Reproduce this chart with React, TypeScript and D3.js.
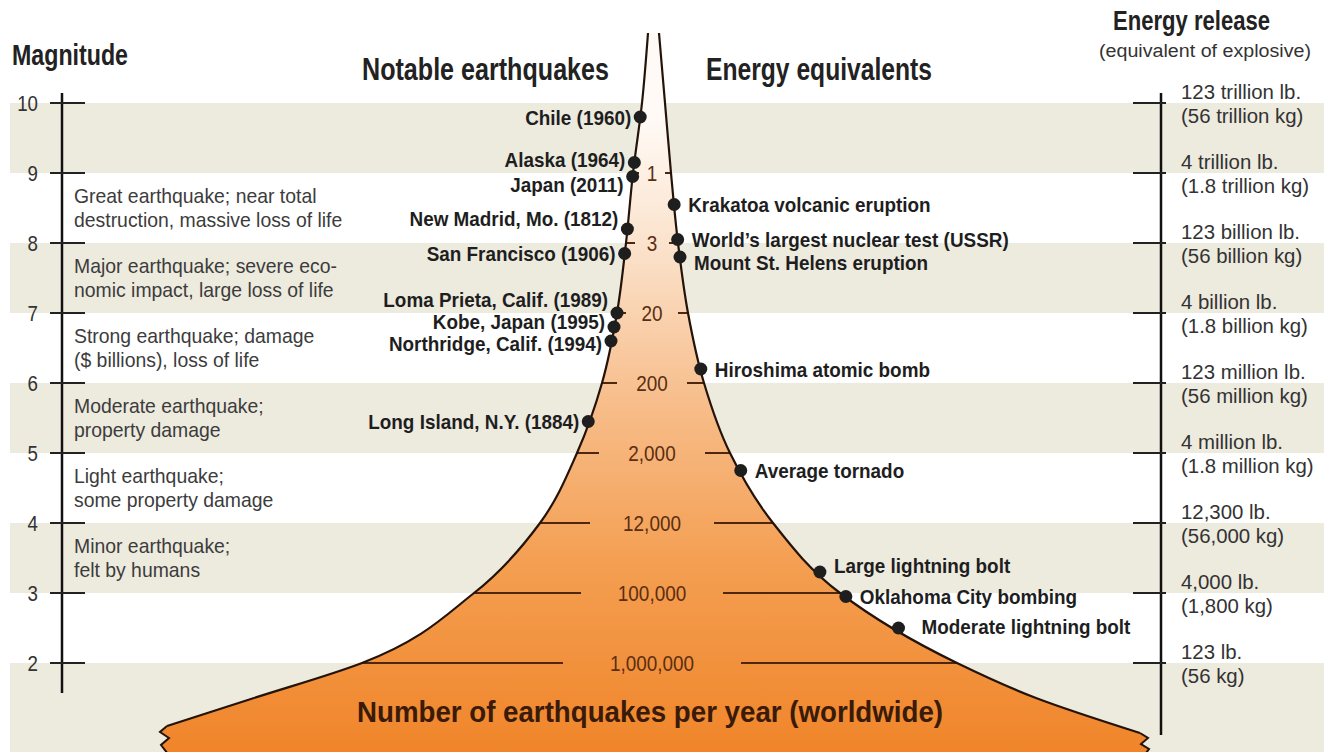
import React from 'react';
import * as d3 from 'd3';

const WIDTH = 1324;
const HEIGHT = 752;

// magnitude scale, shared by both axes
const magnitudes = [10, 9, 8, 7, 6, 5, 4, 3, 2];
const energyLb = ['123 trillion lb.', '4 trillion lb.', '123 billion lb.', '4 billion lb.', '123 million lb.', '4 million lb.', '12,300 lb.', '4,000 lb.', '123 lb.'];
const energyKg = ['(56 trillion kg)', '(1.8 trillion kg)', '(56 billion kg)', '(1.8 billion kg)', '(56 million kg)', '(1.8 million kg)', '(56,000 kg)', '(1,800 kg)', '(56 kg)'];

// shaded bands (top magnitude, bottom magnitude)
const bandTop = [10, 8, 6, 4, 2];
const bandBottom = [9, 7, 5, 3, 0.5];

// class descriptions, centred on a magnitude
const classMag = [8.5, 7.5, 6.5, 5.5, 4.5, 3.5];
const classText = [
  ['Great earthquake; near total', 'destruction, massive loss of life'],
  ['Major earthquake; severe eco-', 'nomic impact, large loss of life'],
  ['Strong earthquake; damage', '($ billions), loss of life'],
  ['Moderate earthquake;', 'property damage'],
  ['Light earthquake;', 'some property damage'],
  ['Minor earthquake;', 'felt by humans'],
];

// number of quakes per year at each magnitude
const perYearMag = [9, 8, 7, 6, 5, 4, 3, 2];
const perYear = ['1', '3', '20', '200', '2,000', '12,000', '100,000', '1,000,000'];

// funnel edges: magnitude -> horizontal offset from the centre line
const leftMag = [11, 10, 9, 8, 7, 6, 5, 4, 3, 2, 1.5, 1.1];
const leftOff = [-6, -12, -21, -28, -37, -52, -77, -114, -180, -292, -400, -487];
const rightMag = [11, 10, 9, 8, 7, 6, 5, 4, 3, 2, 1.5, 1.0];
const rightOff = [5, 11, 17, 24, 34, 50, 76, 119, 186, 303, 382, 486];

// notable earthquakes (left edge)
const quakeNames = ['Chile (1960)', 'Alaska (1964)', 'Japan (2011)', 'New Madrid, Mo. (1812)', 'San Francisco (1906)', 'Loma Prieta, Calif. (1989)', 'Kobe, Japan (1995)', 'Northridge, Calif. (1994)', 'Long Island, N.Y. (1884)'];
const quakeMag = [9.8, 9.15, 8.95, 8.2, 7.85, 7.0, 6.8, 6.6, 5.45];

// energy equivalents (right edge)
const equivNames = ['Krakatoa volcanic eruption', 'World\u2019s largest nuclear test (USSR)', 'Mount St. Helens eruption', 'Hiroshima atomic bomb', 'Average tornado', 'Large lightning bolt', 'Oklahoma City bombing', 'Moderate lightning bolt'];
const equivMag = [8.55, 8.05, 7.8, 6.2, 4.75, 3.3, 2.95, 2.5];

// label nudges so they don't collide
const quakeDy: Record<string, number> = { 'Alaska (1964)': -3, 'Japan (2011)': 8, 'New Madrid, Mo. (1812)': -11, 'Loma Prieta, Calif. (1989)': -14, 'Kobe, Japan (1995)': -6, 'Northridge, Calif. (1994)': 2 };
const equivDy: Record<string, number> = { 'Mount St. Helens eruption': 5, 'Large lightning bolt': -7, 'Moderate lightning bolt': -2 };

const SANS = "'Liberation Sans', Arial, sans-serif";
const BAND = '#edeade';
const INK = '#1e1e1e';
const BROWN = '#4f2610';

// narrow text: a normal sans squeezed horizontally to look condensed
const NText = ({ x, y, sx = 0.85, size, bold, anchor, fill, dy, children }: any) => (
  <text
    transform={`translate(${x},${y}) scale(${sx},1)`}
    dy={dy}
    textAnchor={anchor || 'start'}
    fontFamily={SANS}
    fontWeight={bold ? 'bold' : 'normal'}
    fontSize={size}
    fill={fill}
  >
    {children}
  </text>
);

const App = () => {
  const y = d3.scaleLinear().domain([10, 2]).range([103, 663]);
  const x = d3.scaleLinear().domain([-654, 670]).range([0, WIDTH]);
  const leftAt = d3.scaleLinear().domain(leftMag).range(leftOff);
  const rightAt = d3.scaleLinear().domain(rightMag).range(rightOff);

  const edge = d3
    .line<[number, number]>()
    .x((d) => x(d[1]))
    .y((d) => y(d[0]))
    .curve(d3.curveMonotoneY);

  const leftPts = leftMag.map((m, i) => [m, leftOff[i]] as [number, number]);
  const rightPts = rightMag.map((m, i) => [m, rightOff[i]] as [number, number]);
  const leftPath = edge(leftPts) || '';
  const rightPath = edge(rightPts) || '';
  const rightBack = (edge([...rightPts].reverse()) || '').replace(/^M/, 'L');

  const lEnd = [x(leftOff[leftOff.length - 1]), y(leftMag[leftMag.length - 1])];
  const rEnd = [x(rightOff[rightOff.length - 1]), y(rightMag[rightMag.length - 1])];
  const zigL = `L${lEnd[0] - 7},${lEnd[1] + 6} L${lEnd[0] + 2},${lEnd[1] + 12} L${lEnd[0] - 6},${lEnd[1] + 19} L${lEnd[0] + 1},${lEnd[1] + 28}`;
  const zigR = `M${rEnd[0]},${rEnd[1]} L${rEnd[0] + 8},${rEnd[1] + 5} L${rEnd[0] + 1},${rEnd[1] + 11} L${rEnd[0] + 9},${rEnd[1] + 16} L${rEnd[0] + 3},${rEnd[1] + 24}`;
  const fillPath =
    leftPath +
    ` ${zigL} L${lEnd[0] + 1},${HEIGHT} L${rEnd[0] + 3},${HEIGHT} L${rEnd[0] + 3},${rEnd[1] + 24} L${rEnd[0] + 9},${rEnd[1] + 16} L${rEnd[0] + 1},${rEnd[1] + 11} L${rEnd[0] + 8},${rEnd[1] + 5} ` +
    rightBack +
    ' Z';

  const centreX = x(-2);

  return (
    <svg
      width={WIDTH}
      height={HEIGHT}
      viewBox={`0 0 ${WIDTH} ${HEIGHT}`}
      style={{ position: 'absolute', left: 0, top: 0, background: '#fff' }}
    >
      <defs>
        <linearGradient id="funnelFill" gradientUnits="userSpaceOnUse" x1={0} y1={120} x2={0} y2={HEIGHT}>
          <stop offset="0" stopColor="#fffaf5" />
          <stop offset="0.2" stopColor="#fbe2cc" />
          <stop offset="0.45" stopColor="#f7bd8a" />
          <stop offset="0.7" stopColor="#f49f52" />
          <stop offset="1" stopColor="#f0852a" />
        </linearGradient>
      </defs>

      {/* shaded magnitude bands */}
      {bandTop.map((t, i) => (
        <rect key={i} x={10} y={y(t)} width={WIDTH - 10} height={Math.min(y(bandBottom[i]), HEIGHT) - y(t)} fill={BAND} />
      ))}

      {/* funnel */}
      <path d={fillPath} fill="url(#funnelFill)" />

      {/* counts per year with dashes out to the edges */}
      {perYearMag.map((m, i) => {
        const yy = y(m);
        const inner = 8 + 9 * perYear[i].length;
        const lx = x(leftAt(m));
        const rx = x(rightAt(m));
        const lIn = Math.max(centreX - inner, lx + 6);
        const rIn = Math.min(centreX + inner, rx - 6);
        return (
          <g key={perYear[i]}>
            <line x1={lx} x2={lIn} y1={yy} y2={yy} stroke={BROWN} strokeWidth={2} />
            <line x1={rIn} x2={rx} y1={yy} y2={yy} stroke={BROWN} strokeWidth={2} />
            <NText x={centreX} y={yy} dy="0.36em" anchor="middle" size={22} sx={0.86} fill="#5a2e12">
              {perYear[i]}
            </NText>
          </g>
        );
      })}

      <path d={leftPath} fill="none" stroke="#241308" strokeWidth={2.2} />
      <path d={rightPath} fill="none" stroke="#241308" strokeWidth={2.2} />
      <path d={`M${lEnd[0]},${lEnd[1]} ${zigL}`} fill="none" stroke="#241308" strokeWidth={2} />
      <path d={zigR} fill="none" stroke="#241308" strokeWidth={2} />

      {/* notable earthquakes */}
      {quakeNames.map((n, i) => {
        const cx = x(leftAt(quakeMag[i]));
        const cy = y(quakeMag[i]);
        return (
          <g key={n}>
            <circle cx={cx} cy={cy} r={6.5} fill={INK} />
            <NText x={cx - 9} y={cy + (quakeDy[n] || 0)} dy="0.36em" anchor="end" bold size={21} sx={0.9} fill={INK}>
              {n}
            </NText>
          </g>
        );
      })}

      {/* energy equivalents */}
      {equivNames.map((n, i) => {
        const cx = x(rightAt(equivMag[i]));
        const cy = y(equivMag[i]);
        return (
          <g key={n}>
            <circle cx={cx} cy={cy} r={6.5} fill={INK} />
            <NText
              x={cx + (i === equivNames.length - 1 ? 23 : 14)}
              y={cy + (equivDy[n] || 0)}
              dy="0.36em"
              bold
              size={21}
              sx={0.9}
              fill={INK}
            >
              {n}
            </NText>
          </g>
        );
      })}

      {/* magnitude axis */}
      <line x1={62} x2={62} y1={y(10) - 10} y2={y(2) + 30} stroke="#111" strokeWidth={2.5} />
      {magnitudes.map((m) => (
        <g key={m}>
          <line x1={50} x2={85} y1={y(m)} y2={y(m)} stroke="#222" strokeWidth={2} />
          <NText x={38} y={y(m)} dy="0.36em" anchor="end" size={22} sx={0.85} fill="#333">
            {m}
          </NText>
        </g>
      ))}
      {classText.map((lines, i) => (
        <g key={i}>
          <NText x={74} y={y(classMag[i]) - 5} size={20} sx={0.97} fill="#3c3c3c">
            {lines[0]}
          </NText>
          <NText x={74} y={y(classMag[i]) + 19} size={20} sx={0.97} fill="#3c3c3c">
            {lines[1]}
          </NText>
        </g>
      ))}

      {/* energy axis */}
      <line x1={1161} x2={1161} y1={y(10) - 10} y2={y(2) + 72} stroke="#111" strokeWidth={2.5} />
      {magnitudes.map((m, i) => (
        <g key={m}>
          <line x1={1133} x2={1166} y1={y(m)} y2={y(m)} stroke="#222" strokeWidth={2} />
          <NText x={1181} y={y(m) - 4} size={20} sx={1.02} fill="#333">
            {energyLb[i]}
          </NText>
          <NText x={1181} y={y(m) + 20} size={20} sx={1.02} fill="#333">
            {energyKg[i]}
          </NText>
        </g>
      ))}

      {/* headings */}
      <text x={12} y={65} fontFamily={SANS} fontWeight="bold" fontSize={29} fill="#222" textLength={116} lengthAdjust="spacingAndGlyphs">
        Magnitude
      </text>
      <text x={362} y={80} fontFamily={SANS} fontWeight="bold" fontSize={31} fill="#222" textLength={247} lengthAdjust="spacingAndGlyphs">
        Notable earthquakes
      </text>
      <text x={706} y={80} fontFamily={SANS} fontWeight="bold" fontSize={31} fill="#222" textLength={226} lengthAdjust="spacingAndGlyphs">
        Energy equivalents
      </text>
      <text x={1113} y={30} fontFamily={SANS} fontWeight="bold" fontSize={28} fill="#222" textLength={157} lengthAdjust="spacingAndGlyphs">
        Energy release
      </text>
      <text x={1099} y={57} fontFamily={SANS} fontSize={18} fill="#333" textLength={212} lengthAdjust="spacingAndGlyphs">
        (equivalent of explosive)
      </text>
      <text x={357} y={722} fontFamily={SANS} fontWeight="bold" fontSize={30} fill="#3a1a08" textLength={586} lengthAdjust="spacingAndGlyphs">
        Number of earthquakes per year (worldwide)
      </text>
    </svg>
  );
};

export default App;
